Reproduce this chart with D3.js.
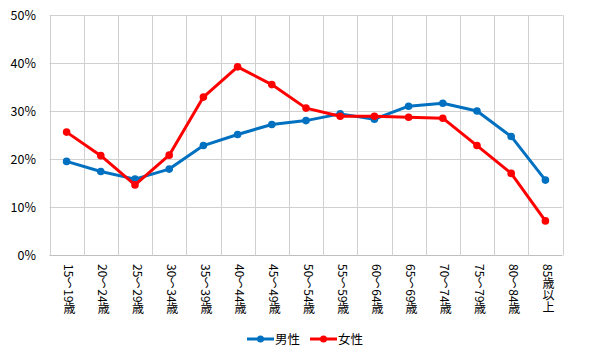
<!DOCTYPE html>
<html><head><meta charset="utf-8">
<script src="https://cdn.jsdelivr.net/npm/d3@7"></script>
<style>
body{margin:0;background:#fff;}
text{font-family:"Noto Sans CJK JP","Noto Sans",sans-serif;fill:#000;}
</style></head>
<body><svg id="c" width="605" height="360"></svg>
<script>
const categories = ["15～19歳","20～24歳","25～29歳","30～34歳","35～39歳","40～44歳","45～49歳","50～54歳","55～59歳","60～64歳","65～69歳","70～74歳","75～79歳","80～84歳","85歳以上"];
const male   = [19.5,17.4,15.8,17.9,22.8,25.1,27.2,28.0,29.4,28.3,31.0,31.6,30.0,24.7,15.6];
const female = [25.6,20.7,14.6,20.8,32.9,39.2,35.5,30.6,28.9,28.9,28.7,28.5,22.8,17.0,7.1];
const yTicks = [0,10,20,30,40,50];
const seriesNames = ["男性","女性"];
const colors = ["#0070C0","#FF0000"];

(function(){
const svg = d3.select("#c");
const pL = 49.5, pR = 562.5, pT = 15, pB = 255;
const x = d3.scaleBand().domain(categories).range([pL, pR]);
const y = d3.scaleLinear().domain([0,50]).range([pB, pT]);

// horizontal grid
svg.append("g").selectAll("line").data(yTicks).join("line")
  .attr("x1", pL).attr("x2", pR)
  .attr("y1", d => Math.round(y(d))+0.5).attr("y2", d => Math.round(y(d))+0.5)
  .attr("stroke", d => d===0 ? "#bfbfbf" : "#d0d0d0").attr("stroke-width",1);
// vertical grid at band boundaries
const bounds = categories.map(c => x(c)).concat([pR]);
svg.append("g").selectAll("line").data(bounds).join("line")
  .attr("x1", d => Math.round(d)+0.5).attr("x2", d => Math.round(d)+0.5)
  .attr("y1", pT).attr("y2", pB+0.5)
  .attr("stroke", "#d0d0d0").attr("stroke-width",1);

// y labels
svg.append("g").selectAll("text").data(yTicks).join("text")
  .attr("x", 36).attr("y", d => y(d)+4.5)
  .attr("text-anchor","end").attr("font-size","12.5px")
  .text(d => d + "%");

// x labels vertical
svg.append("g").selectAll("text").data(categories).join("text")
  .attr("x", d => x(d) + x.bandwidth()/2 + 3).attr("y", 264)
  .attr("font-size","12px")
  .style("writing-mode","vertical-rl").style("text-orientation","mixed")
  .text(d => d);

const line = d3.line().x((d,i) => x(categories[i]) + x.bandwidth()/2).y(d => y(d));
[male, female].forEach((s, k) => {
  const g = svg.append("g");
  g.append("path").datum(s).attr("d", line).attr("fill","none")
    .attr("stroke", colors[k]).attr("stroke-width",3).attr("stroke-linejoin","round");
  g.selectAll("circle").data(s).join("circle")
    .attr("cx", (d,i) => x(categories[i]) + x.bandwidth()/2).attr("cy", d => y(d))
    .attr("r", 3.8).attr("fill", colors[k]);
});

// legend
const lg = svg.append("g");
const legX = [247, 310];
seriesNames.forEach((n,k) => {
  lg.append("line").attr("x1", legX[k]).attr("x2", legX[k]+27).attr("y1",339).attr("y2",339)
    .attr("stroke", colors[k]).attr("stroke-width",3);
  lg.append("circle").attr("cx", legX[k]+13.5).attr("cy",339).attr("r",3.5).attr("fill",colors[k]);
  lg.append("text").attr("x", legX[k]+28).attr("y",343.5).attr("font-size","12.5px").text(n);
});
})();
</script></body></html>
